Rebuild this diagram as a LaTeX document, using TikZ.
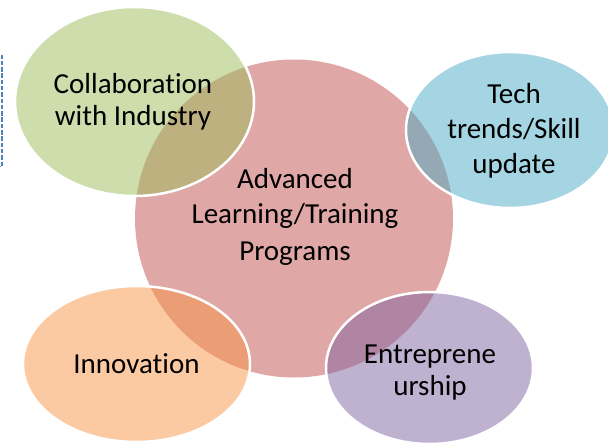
\documentclass[tikz,border=0pt]{standalone}
\usepackage{fontspec}
\setmainfont{Carlito}[Ligatures={NoCommon}]
\usetikzlibrary{shapes.geometric}
\definecolor{cpink}{HTML}{C0504D}
\definecolor{cgreen}{HTML}{9BBB59}
\definecolor{cblue}{HTML}{4BACC6}
\definecolor{corange}{HTML}{F79646}
\definecolor{cpurple}{HTML}{8064A2}
\definecolor{cdash}{HTML}{4F81BD}
\begin{document}
\begin{tikzpicture}[x=1pt,y=-1pt,
  blob/.style={ellipse, inner sep=0pt, fill opacity=0.5, draw=white, line width=2.5pt},
  lbl/.style={anchor=base, inner sep=0pt, font=\fontsize{29}{32}\selectfont, text=black}]
\useasboundingbox (0,0) rectangle (608,442);
\clip (0,0) rectangle (608,442);
% dashed frame at the left edge
\draw[cdash, line width=1.5pt, dash pattern=on 4.5pt off 1.8pt] (-6,55.5) rectangle (2.2,166.5);
% central circle
\node[ellipse, inner sep=0pt, minimum width=318pt, minimum height=318pt, fill=cpink, fill opacity=0.5] (core) at (294,218.5) {};
% outer ellipses
\node[blob, fill=cgreen, minimum width=239pt, minimum height=189pt] (collab) at (134.5,101.5) {};
\node[blob, fill=cblue, minimum width=208pt, minimum height=156pt] (tech) at (510,130) {};
\node[blob, fill=corange, minimum width=227pt, minimum height=156pt] (innov) at (136.5,364) {};
\node[blob, fill=cpurple, minimum width=207pt, minimum height=152pt] (entre) at (429.5,368) {};
% labels
\node[lbl] (c1) at (133,93) {Collaboration};
\node[lbl] (c2) at (133,125) {with Industry};
\node[lbl] (t1) at (514,103) {Tech};
\node[lbl] (t2) at (514,138) {trends/Skill};
\node[lbl] (t3) at (514,173) {update};
\node[lbl] (a1) at (295,188) {Advanced};
\node[lbl] (a2) at (295,223) {Learning/Training};
\node[lbl] (a3) at (295,260) {Programs};
\node[lbl] (i1) at (136.5,373) {Innovation};
\node[lbl] (e1) at (430,363) {Entreprene};
\node[lbl] (e2) at (430,395) {urship};
\end{tikzpicture}
\end{document}
